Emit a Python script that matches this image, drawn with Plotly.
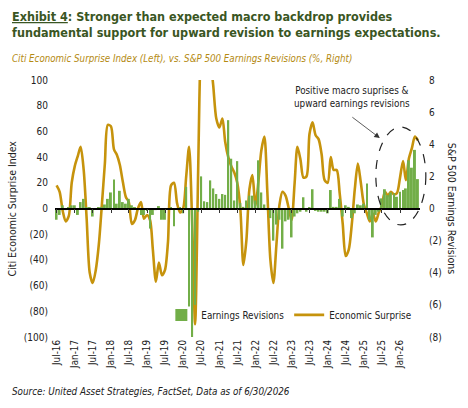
import pandas as pd
import plotly.graph_objects as go

# ---------------- data ----------------
DATES = pd.date_range("2016-06-30", "2026-06-30", freq="ME")
TICK_DATES = pd.date_range("2016-07-01", "2026-01-01", freq="6MS")

ECON_SURPRISE = [
    18, 13, -2, -10, -6, 20, 33, 41, 48, 30,
    -8, -50, -58, -48, -28, 2, 35, 65, 64, 46,
    42, 34, 21, 9, 5, -12, -9, 0, 5, -8,
    -5, -9, -32, -57, -42, -52, -48, -26, 18, 20,
    4, -3, 0, 25, 48, -10, -90, 30, 150, 200,
    170, 120, 95, 70, 63, 70, 52, 40, 33, 28,
    20, 0, -44, -25, 15, 26, 2, 22, 45, 56,
    13, -40, -58, -28, 3, 13, 10, 1, -9, 20,
    48, 38, 24, 25, 58, 67, 57, 54, 42, 22,
    20, 40, 30, 30, 12, -12, -37, -32, -12, 15,
    35, 20, 3, -4, -10, -4, -10, -3, 2, 13,
    10, 13, 11, 12, 24, 37, 22, 39, 47, 56,
    53,
]

EARNINGS_REV = [
    -0.7, -0.4, 0.2, -0.1, 0.05, 0.2, 0.2, -0.4, 0.4, 0.6,
    0.05, 0.05, -0.5, 0.0, 0.05, 0.1, 0.25, 0.6, 1.0, 1.8,
    0.3, 1.1, 0.4, 0.3, 0.6, 0.2, 0.05, -0.1, -0.4, -0.4,
    -0.15, -1.25, -0.4, -0.1, 0.15, -0.7, -0.7, 0.0, 0.05, -1.1,
    0.0, 0.05, -0.3, 1.35, -6.1, -8.0, -6.0, -0.2, 2.0, 0.45,
    0.4, 1.75, 1.25, 0.9, 0.6, 0.9, 0.85, 5.5, 3.1, 0.5,
    2.95, 0.35, 0.1, 0.5, 0.8, 0.8, 0.5, 3.0, 1.0, 0.25,
    -0.1, -0.6, -2.0, -1.0, -0.7, -2.5, -0.8, -0.7, -1.8, -0.5,
    -0.3, -0.2, 0.7, -0.2, 0.05, 1.2, -0.15, -0.2, -0.2, -0.2,
    -0.3, 1.15, 0.1, 0.1, 0.6, -0.5, 0.2, 0.1, -0.6, -0.3,
    0.25, 0.2, 0.3, 1.55, -0.7, -1.8, -0.4, -0.2, 0.63, 1.2,
    0.83, 1.0, 0.94, 0.73, 1.04, 1.15, 1.25, 3.0, 2.54, 3.65,
    1.83,
]

LEFT_TICKS = [100, 80, 60, 40, 20, 0, -20, -40, -60, -80, -100]
RIGHT_TICKS = [8, 6, 4, 2, 0, -2, -4, -6, -8]

SERIES_NAMES = ["Earnings Revisions", "Economic Surprise"]
TITLE_LEAD = "Exhibit 4"
TITLE_REST = (": Stronger than expected macro backdrop provides<br>"
              "fundamental support for upward revision to earnings expectations.")
SUBTITLE = "Citi Economic Surprise Index (Left), vs. S&P 500 Earnings Revisions (%, Right)"
SOURCE = "Source: United Asset Strategies, FactSet, Data as of 6/30/2026"
LEFT_TITLE = "Citi Economic Surprise Index"
RIGHT_TITLE = "S&P 500 Earnings Revisions"
CALLOUT = "Positive macro suprises &<br>upward earnings revisions"

# ---------------- style ----------------
FONT = "DejaVu Sans Condensed, Liberation Sans, sans-serif"
GREEN = "#72AE48"
GOLD = "#C6930C"
TITLE_GREEN = "#3A5623"
SUB_GOLD = "#B48A12"
TEXT = "#222222"
X_RANGE = ["2016-06-14", "2026-07-21"]


def paren(v):
    return f"({abs(v)})" if v < 0 else str(v)


fig = go.Figure()
fig.add_trace(go.Bar(
    x=DATES, y=EARNINGS_REV, name=SERIES_NAMES[0],
    marker=dict(color=GREEN, line=dict(width=0)),
    yaxis="y2",
))
fig.add_trace(go.Scatter(
    x=DATES, y=ECON_SURPRISE, name=SERIES_NAMES[1], mode="lines",
    line=dict(color=GOLD, width=2.6, shape="spline", smoothing=0.8),
))
# helper trace so the zero-line axis (ticks on y = 0) is drawn
fig.add_trace(go.Scatter(x=DATES[:1], y=[None], xaxis="x2", showlegend=False,
                         hoverinfo="skip"))

fig.update_layout(
    width=468, height=408,
    margin=dict(l=55, r=48, t=80, b=71),
    plot_bgcolor="white", paper_bgcolor="white",
    font=dict(family=FONT, size=10, color=TEXT),
    bargap=0.3,
    showlegend=True,
    legend=dict(orientation="h", x=0.99, y=0.086, xanchor="right", yanchor="middle",
                bgcolor="rgba(0,0,0,0)", font=dict(size=9.8, color=TEXT),
                itemwidth=30, traceorder="normal"),
    xaxis=dict(type="date", range=X_RANGE, tickvals=TICK_DATES, automargin=False,
               tickformat="%b-%y", tickangle=-90, showgrid=False, zeroline=False,
               showline=False, ticks="", tickfont=dict(size=9.8)),
    xaxis2=dict(type="date", range=X_RANGE, overlaying="x", anchor="free", position=0.5,
                tickvals=TICK_DATES, showline=True, linecolor="black",
                linewidth=1.5, ticks="outside", ticklen=4, tickcolor="#333333",
                tickwidth=1.2, showticklabels=False, showgrid=False, zeroline=False),
    yaxis=dict(range=[-100, 100], tickvals=LEFT_TICKS, automargin=False,
               ticktext=[paren(v) for v in LEFT_TICKS], showgrid=False,
               zeroline=False, showline=False, ticks="", ticklabelstandoff=6,
               tickfont=dict(size=10)),
    yaxis2=dict(range=[-8, 8], overlaying="y", side="right", tickvals=RIGHT_TICKS,
                ticktext=[paren(v) for v in RIGHT_TICKS], showgrid=False,
                automargin=False, zeroline=False, showline=False, ticks="",
                ticklabelstandoff=8, tickfont=dict(size=10)),
)

ann = [
    dict(text=f"<b><u>{TITLE_LEAD}</u>{TITLE_REST}</b>", xref="paper", yref="paper",
         x=-0.123, y=1.285, xanchor="left", yanchor="top", align="left",
         showarrow=False, font=dict(size=12.5, color=TITLE_GREEN)),
    dict(text=f"<i>{SUBTITLE}</i>", xref="paper", yref="paper",
         x=-0.123, y=1.085, xanchor="left", yanchor="middle", align="left",
         showarrow=False, font=dict(size=9.7, color=SUB_GOLD)),
    dict(text=f"<i>{SOURCE}</i>", xref="paper", yref="paper",
         x=-0.123, y=-0.213, xanchor="left", yanchor="middle", align="left",
         showarrow=False, font=dict(size=9.8, color=TEXT)),
    dict(text=LEFT_TITLE, xref="paper", yref="paper", x=-0.118, y=0.5,
         textangle=-90, showarrow=False, xanchor="center", yanchor="middle",
         font=dict(size=10.5, color=TEXT)),
    dict(text=RIGHT_TITLE, xref="paper", yref="paper", x=1.09, y=0.5,
         textangle=90, showarrow=False, xanchor="center", yanchor="middle",
         font=dict(size=10.5, color=TEXT)),
    dict(text=CALLOUT, xref="paper", yref="paper", x=0.814, y=0.934,
         xanchor="center", yanchor="middle", showarrow=False, align="center",
         font=dict(size=9.8, color=TEXT)),
    dict(text="", xref="paper", yref="paper", x=0.89, y=0.774, ax=-29, ay=-22,
         showarrow=True, arrowhead=2, arrowsize=1.4, arrowwidth=0.8,
         arrowcolor="#333333"),
]
fig.update_layout(annotations=ann)

fig.add_shape(type="circle", xref="paper", yref="paper",
              x0=0.879, x1=1.016, y0=0.436, y1=0.817,
              line=dict(color=TEXT, width=1.2, dash="dash"))

fig.write_html("out.html",
               config={"displayModeBar": False},
               post_script="document.body.style.margin='0px';"
                           "document.body.style.overflow='hidden';")
